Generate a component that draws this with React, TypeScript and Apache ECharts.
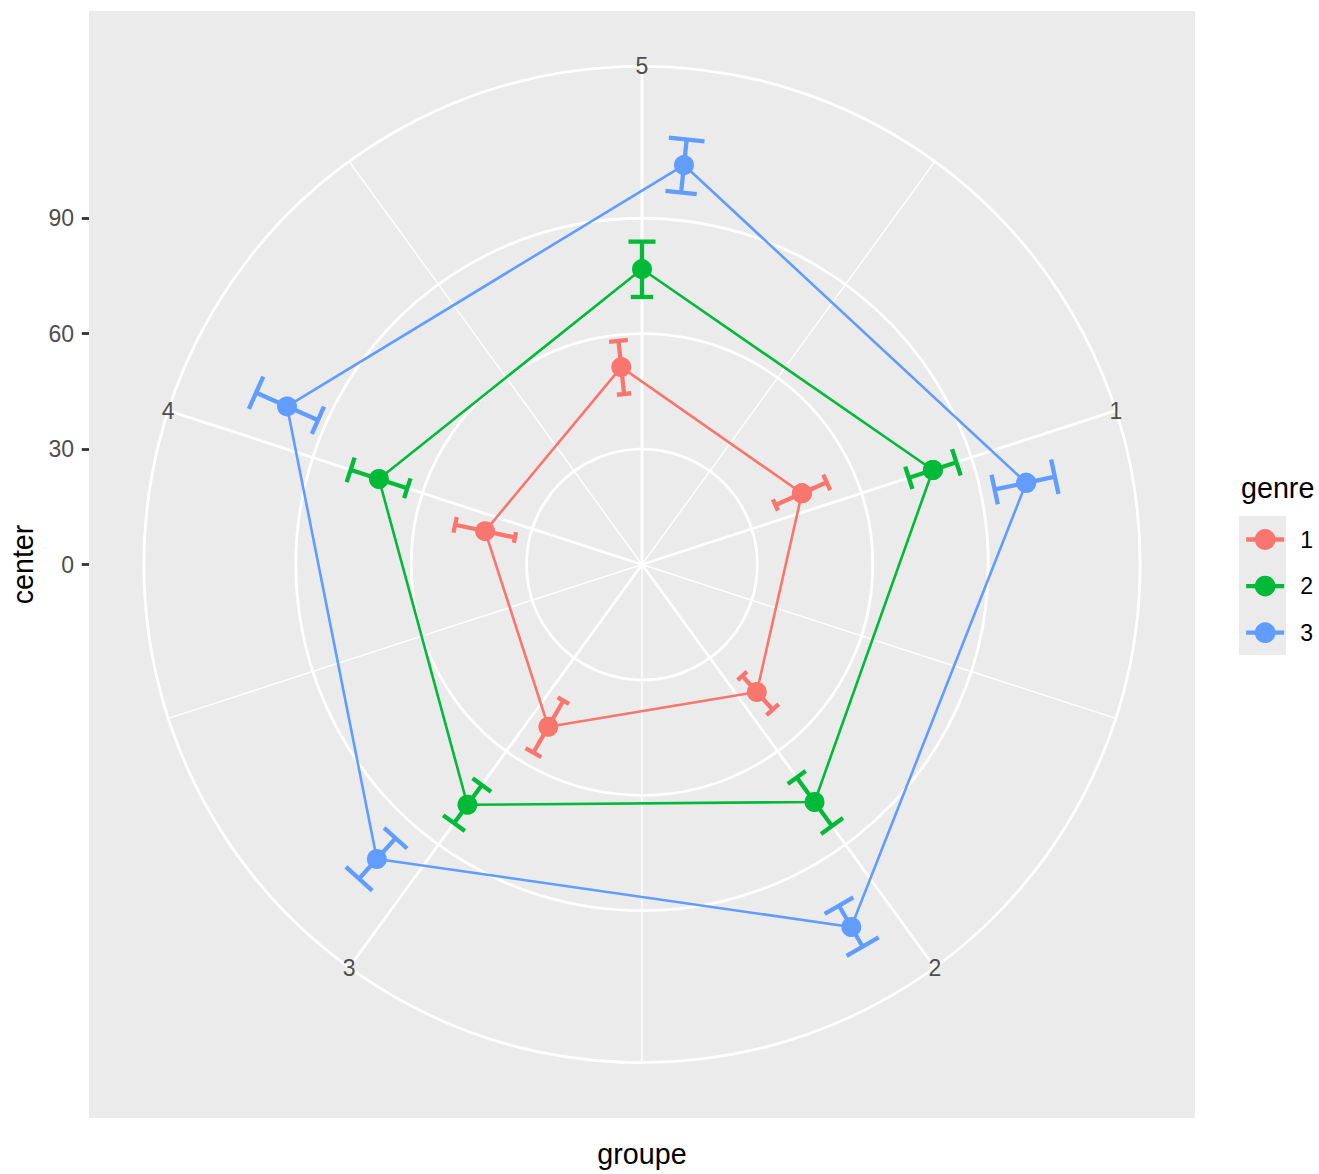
import React, { useEffect, useRef } from 'react';
import * as echarts from 'echarts';

// ---- data ----
const categories = ['1', '2', '3', '4', '5'];
const genres = ['1', '2', '3'];
const genreColors = ['#F8766D', '#00BA38', '#619CFF'];

const center1 = [45.5, 44.6, 48.7, 41.7, 51.6];
const lower1 = [38.0, 39.0, 40.9, 33.8, 44.6];
const upper1 = [52.6, 50.8, 56.5, 49.7, 58.5];

const center2 = [79.5, 76.3, 77.2, 71.9, 76.8];
const lower2 = [73.0, 68.5, 70.9, 64.2, 69.6];
const upper2 = [86.0, 84.1, 83.2, 79.7, 84.0];

const center3 = [102.1, 108.8, 103.0, 101.0, 104.4];
const lower3 = [93.8, 102.5, 95.8, 92.3, 97.3];
const upper3 = [109.8, 114.8, 110.0, 109.9, 111.2];

const radialTicks = [0, 30, 60, 90];
const radialGrid = [30, 60, 90];
const R_MAX = 115.1; // radial scale upper limit
const DODGE_WIDTH = 0.25;
const ERRORBAR_WIDTH = 0.2;

const centers = [center1, center2, center3];
const lowers = [lower1, lower2, lower3];
const uppers = [upper1, upper2, upper3];

// ---- layout ----
const FONT = "'Liberation Sans', Arial, Helvetica, sans-serif";
const PL = 89;
const PT = 11;
const PW = 1106;
const PH = 1107;
const CX = PL + PW / 2;
const CY = PT + PH / 2;
const R_PX = 0.4 * PH;
const R_OUT_PX = 0.45 * PH;
const R_OUT_VAL = (R_MAX * 0.45) / 0.4;
const Y_HALF = (PH / 2 / R_PX) * R_MAX;

export default function App() {
  const ref = useRef<HTMLDivElement>(null);

  useEffect(() => {
    document.body.style.margin = '0';
    const chart = echarts.init(ref.current!, null, { renderer: 'svg' });

    const nG = genres.length;
    const nC = categories.length;
    const offsets = genres.map((_, g) => ((g + 0.5) / nG) * DODGE_WIDTH - DODGE_WIDTH / 2);
    const barW = ERRORBAR_WIDTH / nG;

    const lineSeries = genres.map((name, g) => {
      const pts = categories.map((_, i) => [centers[g][i], (i + 1 + offsets[g]) % nC]);
      pts.push(pts[0]);
      return {
        name,
        type: 'line',
        coordinateSystem: 'polar',
        data: pts,
        symbol: 'circle',
        symbolSize: 20,
        showSymbol: true,
        clip: false,
        z: 4,
        silent: true,
        itemStyle: { color: genreColors[g] },
        lineStyle: { color: genreColors[g], width: 2.6 },
        emphasis: { disabled: true },
      };
    });

    const errSeries = genres.map((name, g) => ({
      name,
      type: 'custom',
      coordinateSystem: 'polar',
      z: 3,
      silent: true,
      data: categories.map((_, i) => [lowers[g][i], uppers[g][i], (i + 1 + offsets[g]) % nC]),
      renderItem: (params: any, api: any) => {
        const lo = api.value(0);
        const hi = api.value(1);
        const a = api.value(2);
        const hw = barW / 2;
        const p1 = api.coord([lo, a]);
        const p2 = api.coord([hi, a]);
        const c1 = api.coord([lo, a - hw]);
        const c2 = api.coord([lo, a + hw]);
        const c3 = api.coord([hi, a - hw]);
        const c4 = api.coord([hi, a + hw]);
        const style = { stroke: genreColors[g], lineWidth: 4.3, fill: 'none' };
        return {
          type: 'group',
          children: [
            { type: 'line', shape: { x1: p1[0], y1: p1[1], x2: p2[0], y2: p2[1] }, style },
            { type: 'line', shape: { x1: c1[0], y1: c1[1], x2: c2[0], y2: c2[1] }, style },
            { type: 'line', shape: { x1: c3[0], y1: c3[1], x2: c4[0], y2: c4[1] }, style },
          ],
        };
      },
    }));

    const circleSeries = {
      type: 'custom',
      coordinateSystem: 'polar',
      z: 1,
      silent: true,
      data: radialGrid.map((v) => [v, 0]),
      renderItem: (params: any, api: any) => {
        const p = api.coord([api.value(0), 0]);
        return {
          type: 'circle',
          shape: { cx: params.coordSys.cx, cy: params.coordSys.cy, r: p[2] },
          style: { fill: 'none', stroke: '#FFFFFF', lineWidth: 2.8 },
        };
      },
    };

    const thetaLabelSeries = {
      type: 'custom',
      coordinateSystem: 'polar',
      z: 6,
      silent: true,
      data: categories.map((_, i) => [R_OUT_VAL, i + 1]),
      renderItem: (params: any, api: any) => {
        const p = api.coord([api.value(0), api.value(1)]);
        return {
          type: 'text',
          x: p[0],
          y: p[1],
          style: {
            text: categories[params.dataIndex],
            fontSize: 23,
            fontFamily: FONT,
            fill: '#4D4D4D',
            align: 'center',
            verticalAlign: 'middle',
          },
        };
      },
    };

    const option: any = {
      animation: false,
      textStyle: { fontFamily: FONT },
      graphic: [
        {
          type: 'rect',
          z: -10,
          silent: true,
          shape: { x: PL, y: PT, width: PW, height: PH },
          style: { fill: '#EBEBEB' },
        },
        {
          type: 'rect',
          z: -10,
          silent: true,
          shape: { x: 1239, y: 516, width: 47, height: 139 },
          style: { fill: '#EBEBEB' },
        },
        {
          type: 'text',
          x: 1241,
          y: 488,
          silent: true,
          style: {
            text: 'genre',
            fontSize: 28.7,
            fontFamily: FONT,
            fill: '#000000',
            align: 'left',
            verticalAlign: 'middle',
          },
        },
      ],
      legend: {
        data: genres,
        orient: 'vertical',
        left: 1244,
        top: 528,
        padding: 0,
        itemWidth: 38,
        itemHeight: 26,
        itemGap: 23.6,
        selectedMode: false,
        lineStyle: { width: 4.3 },
        textStyle: { fontSize: 23, color: '#000000', fontFamily: FONT, padding: [0, 0, 0, 11] },
      },
      polar: { center: [CX, CY], radius: R_OUT_PX },
      angleAxis: {
        type: 'value',
        min: 0,
        max: 5,
        interval: 1,
        startAngle: 90,
        clockwise: true,
        axisLine: { show: true, lineStyle: { color: '#FFFFFF', width: 2.8 } },
        axisTick: { show: false },
        axisLabel: { show: false },
        splitLine: { show: true, lineStyle: { color: '#FFFFFF', width: 2.8 } },
        minorTick: { show: false, splitNumber: 2 },
        minorSplitLine: { show: true, lineStyle: { color: '#FFFFFF', width: 1.4 } },
      },
      radiusAxis: {
        type: 'value',
        min: 0,
        max: R_OUT_VAL,
        axisLine: { show: false },
        axisTick: { show: false },
        axisLabel: { show: false },
        splitLine: { show: false },
      },
      grid: { left: PL, top: PT, width: PW, height: PH, show: false },
      xAxis: {
        type: 'value',
        min: 0,
        max: 1,
        axisLine: { show: false },
        axisTick: { show: false },
        axisLabel: { show: false },
        splitLine: { show: false },
        name: 'groupe',
        nameLocation: 'middle',
        nameGap: 21,
        nameTextStyle: { fontSize: 28.7, color: '#000000', fontFamily: FONT },
      },
      yAxis: {
        type: 'value',
        min: -Y_HALF,
        max: Y_HALF,
        axisLine: { show: false },
        axisTick: {
          show: true,
          length: 7.2,
          lineStyle: { color: '#333333', width: 2.8 },
          customValues: radialTicks,
        },
        axisLabel: {
          customValues: radialTicks,
          margin: 15,
          fontSize: 23,
          color: '#4D4D4D',
          fontFamily: FONT,
        },
        splitLine: { show: false },
        name: 'center',
        nameLocation: 'middle',
        nameRotate: 90,
        nameGap: 49.6,
        nameTextStyle: { fontSize: 28.7, color: '#000000', fontFamily: FONT },
      },
      series: [circleSeries, ...lineSeries, ...errSeries, thetaLabelSeries],
    };

    chart.setOption(option);
    return () => chart.dispose();
  }, []);

  return <div ref={ref} style={{ width: 1319, height: 1174 }} />;
}
